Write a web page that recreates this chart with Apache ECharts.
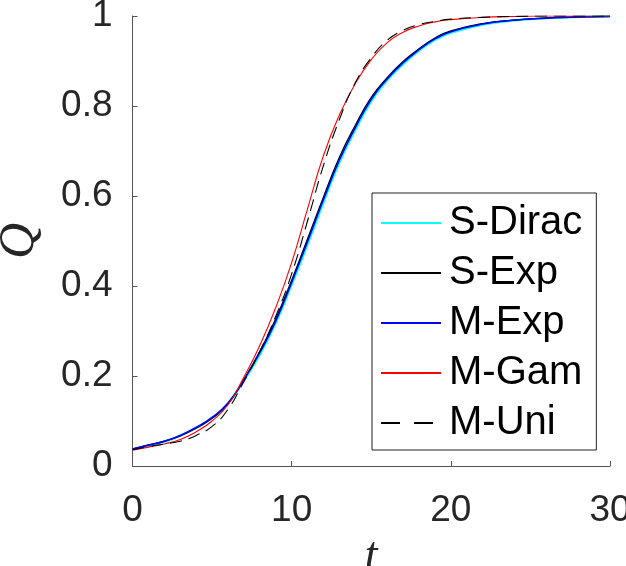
<!DOCTYPE html>
<html><head><meta charset="utf-8">
<script src="https://cdn.jsdelivr.net/npm/echarts@6/dist/echarts.min.js"></script>
<style>html,body{margin:0;padding:0;background:#fff}#c{width:626px;height:566px}</style>
</head><body><div id="c"></div>
<script>
const t = [0,1,2,3,4,5,6,7,8,9,10,11,12,13,14,15,16,17,18,19,20,22,24,26,28,30];
const sDirac = [0.037,0.045,0.054,0.067,0.085,0.107,0.139,0.190,0.248,0.318,0.403,0.493,0.586,0.675,0.747,0.811,0.857,0.893,0.923,0.947,0.963,0.981,0.990,0.995,0.998,0.999];
const sExp   = [0.038,0.047,0.055,0.067,0.084,0.106,0.138,0.192,0.255,0.327,0.413,0.505,0.598,0.686,0.757,0.819,0.863,0.899,0.927,0.951,0.967,0.983,0.991,0.996,0.998,0.999];
const mExp   = [0.037,0.046,0.055,0.068,0.086,0.108,0.140,0.192,0.252,0.322,0.408,0.499,0.592,0.680,0.752,0.815,0.860,0.896,0.925,0.949,0.965,0.982,0.991,0.995,0.998,0.999];
const mGam   = [0.035,0.042,0.049,0.059,0.076,0.100,0.136,0.198,0.268,0.352,0.452,0.572,0.690,0.780,0.850,0.903,0.941,0.964,0.978,0.987,0.992,0.997,0.999,1.000,1.000,1.000];
const mUni   = [0.036,0.043,0.049,0.055,0.068,0.088,0.126,0.188,0.255,0.333,0.427,0.545,0.668,0.770,0.852,0.907,0.946,0.968,0.981,0.988,0.993,0.997,0.999,1.000,1.000,1.000];
const names = ['S-Dirac','S-Exp','M-Exp','M-Gam','M-Uni'];

const pairs = arr => t.map((v,i)=>[v,arr[i]]);
const font = "'Liberation Sans', Arial, Helvetica, sans-serif";
const serif = "'Liberation Serif', 'DejaVu Serif', serif";
const mk = (name, arr, color, width, type) => ({
  name, type:'line', data:pairs(arr), symbol:'none', showSymbol:false, smooth:0.5,
  lineStyle:{color, width, type: type||'solid'}, itemStyle:{color}, emphasis:{disabled:true}, z:2
});
const chart = echarts.init(document.getElementById('c'), null, {renderer:'canvas'});
chart.setOption({
  animation:false,
  backgroundColor:'#fff',
  grid:{left:132.5, right:16, top:16, bottom:100, containLabel:false, outerBoundsMode:'none'},
  xAxis:{type:'value', min:0, max:30, interval:10,
    name:'t', nameLocation:'middle', nameGap:66,
    nameTextStyle:{fontFamily:serif, fontStyle:'italic', fontSize:46, color:'#262626'},
    axisLine:{show:true, onZero:false, lineStyle:{color:'#555', width:1}},
    axisTick:{show:true, inside:true, length:5, lineStyle:{color:'#555'}},
    axisLabel:{fontFamily:font, fontSize:37, color:'#262626', margin:26, hideOverlap:false},
    splitLine:{show:false}},
  yAxis:{type:'value', min:0, max:1, interval:0.2,
    name:'Q', nameLocation:'middle', nameGap:88, nameRotate:90,
    nameTextStyle:{fontFamily:serif, fontStyle:'italic', fontSize:50, color:'#262626'},
    axisLine:{show:true, onZero:false, lineStyle:{color:'#555', width:1}},
    axisTick:{show:true, inside:true, length:5, lineStyle:{color:'#555'}},
    axisLabel:{fontFamily:font, fontSize:37, color:'#262626', margin:20},
    splitLine:{show:false}},
  legend:{
    data:names.map(n => n==='M-Uni' ? {name:n, lineStyle:{type:[19,14]}} : {name:n}),
    orient:'vertical', left:372, top:193,
    itemWidth:60, itemHeight:14, itemGap:0,
    padding:[5,14,2,8], borderColor:'#222', borderWidth:1, backgroundColor:'#fff',
    itemStyle:{opacity:0},
    textStyle:{fontFamily:font, fontSize:40, color:'#000', lineHeight:50, padding:[0,0,0,3]},
    selectedMode:false},
  series:[
    mk('S-Dirac', sDirac, '#00ffff', 2.2),
    mk('S-Exp', sExp, '#000000', 1.3),
    mk('M-Exp', mExp, '#0000ff', 1.5),
    mk('M-Gam', mGam, '#ff0000', 1.1),
    mk('M-Uni', mUni, '#000000', 1.1, [12,7])
  ]
});
</script></body></html>
